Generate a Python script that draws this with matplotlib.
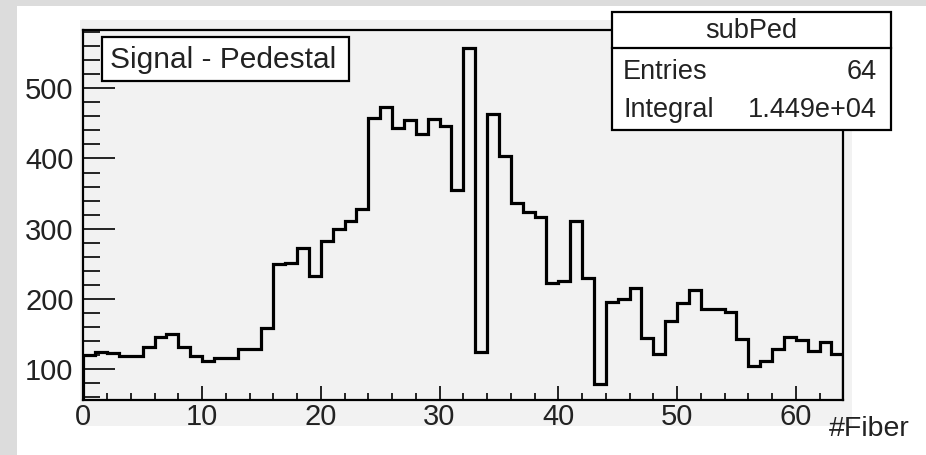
#!/usr/bin/env python3
"""
plot.py: ROOT-style histogram of pedestal-subtracted signal per fiber.
"""
import numpy as np
import matplotlib
matplotlib.use("Agg")
import matplotlib.pyplot as plt
from matplotlib.patches import Rectangle
from matplotlib.ticker import MultipleLocator

plt.rcParams['font.family'] = ['Liberation Sans', 'DejaVu Sans']

# bin contents, fibers 0..63
fiber_edges = np.arange(0, 65)
counts = [120, 124, 123, 118, 118, 131, 146, 150, 131, 118,
          112, 116, 116, 128, 128, 159, 250, 251, 273, 233,
          283, 299, 311, 328, 457, 473, 444, 455, 435, 456,
          446, 355, 557, 124, 463, 404, 336, 324, 317, 223,
          225, 311, 230, 79, 195, 200, 215, 145, 121, 168,
          194, 212, 185, 185, 182, 143, 104, 111, 128, 146,
          141, 126, 138, 122]
hist_name = "subPed"
legend_text = "Signal - Pedestal"
n_entries = "64"
integral = "1.449e+04"

W, H = 926, 455
fig = plt.figure(figsize=(W / 100, H / 100), dpi=100)
fig.patch.set_facecolor("white")
TXT = "#222222"


def fx(px):
    return px / W


def fy(py):
    return 1 - py / H


def box(x0, y0, x1, y1, **kw):
    r = Rectangle((fx(x0), fy(y1)), fx(x1 - x0), (y1 - y0) / H,
                  transform=fig.transFigure, **kw)
    fig.patches.append(r)


# canvas border and pad fill
box(0, 0, W, H, facecolor="#dcdcdc", edgecolor="none", zorder=-3)
box(17, 6, W + 5, H + 5, facecolor="white", edgecolor="none", zorder=-2)
box(80, 20, 852, 426, facecolor="#f2f2f2", edgecolor="none", zorder=-1)

ax = fig.add_axes([fx(83.3), fy(400), fx(843.3 - 83.3), (400 - 30) / H])
ax.set_facecolor("#f2f2f2")
ax.stairs(counts, fiber_edges, color="black", linewidth=2.3)
ax.set_xlim(0, 64)
ax.set_ylim(56, 583)

for s in ax.spines.values():
    s.set_linewidth(1.6)

ax.xaxis.set_major_locator(MultipleLocator(10))
ax.xaxis.set_minor_locator(MultipleLocator(2))
ax.yaxis.set_major_locator(MultipleLocator(100))
ax.yaxis.set_minor_locator(MultipleLocator(20))
ax.tick_params(axis="x", which="major", direction="in", length=10, width=1.2,
               labelsize=21, pad=2, top=False, labelcolor=TXT)
ax.tick_params(axis="x", which="minor", direction="in", length=5, width=1.2, top=False)
ax.tick_params(axis="y", which="major", direction="in", length=23, width=1.2,
               labelsize=21, pad=7, right=False, labelcolor=TXT)
ax.tick_params(axis="y", which="minor", direction="in", length=12, width=1.2, right=False)

fig.text(fx(910), fy(436), "#Fiber", ha="right", va="baseline", fontsize=20.5,
         color=TXT)

# legend box
box(102, 37, 349, 81, facecolor="white", edgecolor="black", linewidth=1.6, zorder=5)
fig.text(fx(110), fy(60), legend_text, ha="left", va="center", fontsize=21.5,
         color=TXT, zorder=6)

# stats box
x0, x1, y0, y1, ym = 612, 891, 12, 130, 48
box(x0, y0, x1, y1, facecolor="white", edgecolor="black", linewidth=1.6, zorder=5)
fig.lines.append(plt.Line2D([fx(x0), fx(x1)], [fy(ym), fy(ym)],
                            transform=fig.transFigure, color="black",
                            linewidth=1.6, zorder=6))
fig.text(fx((x0 + x1) / 2), fy(31), hist_name, ha="center", va="center",
         fontsize=19.5, color=TXT, zorder=7)
fig.text(fx(623), fy(72), "Entries", ha="left", va="center", fontsize=19.5,
         color=TXT, zorder=7)
fig.text(fx(877), fy(72), n_entries, ha="right", va="center", fontsize=19.5,
         color=TXT, zorder=7)
fig.text(fx(623), fy(110), "Integral", ha="left", va="center", fontsize=19.5,
         color=TXT, zorder=7)
fig.text(fx(877), fy(110), integral, ha="right", va="center", fontsize=19.5,
         color=TXT, zorder=7)

fig.savefig("out.png", dpi=100)
